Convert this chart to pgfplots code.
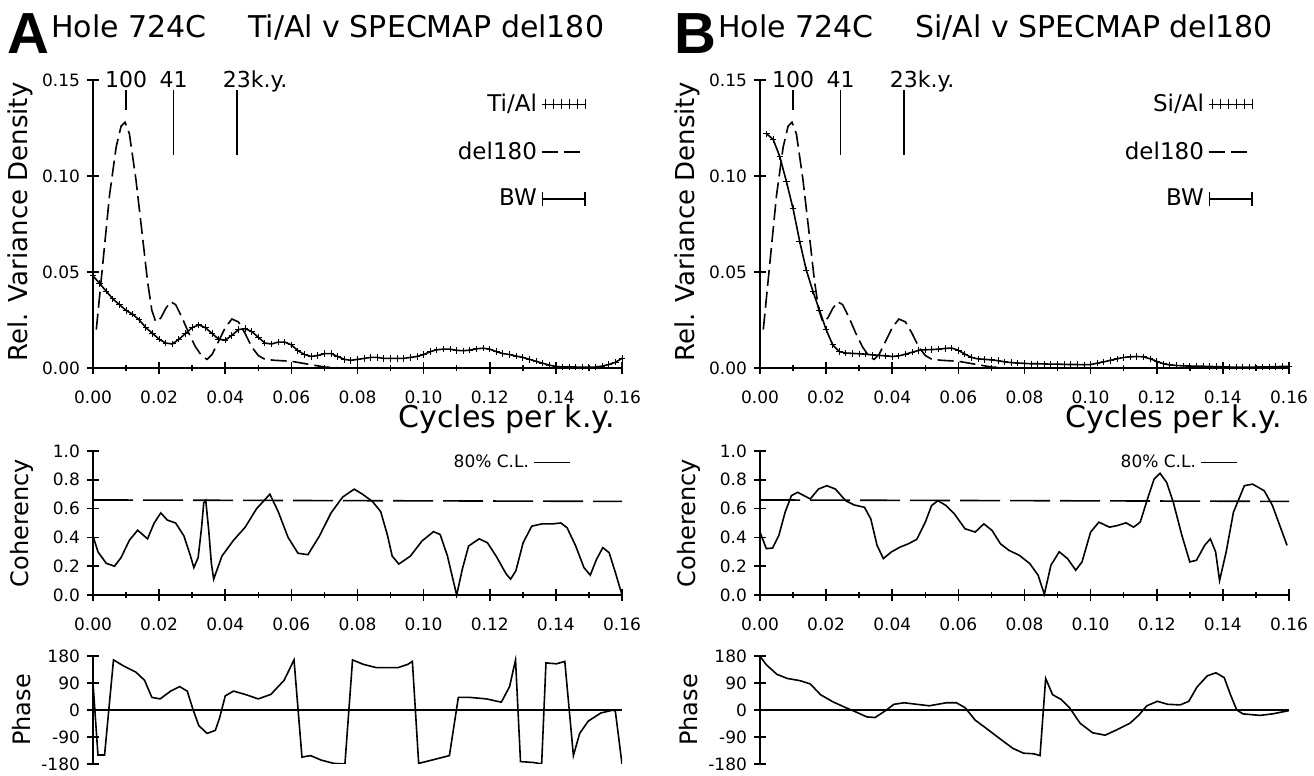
\documentclass[border=0pt]{standalone}
\usepackage{fontspec}
\setmainfont{DejaVu Sans}
\newfontfamily\heavy{Liberation Sans}
\usepackage{pgfplots}
\usepackage{pgfplotstable}
\pgfplotsset{compat=1.18}

% ---- spectra ----
\pgfplotstableread{
x y
0.000 0.048
0.002 0.044
0.004 0.040
0.006 0.036
0.008 0.033
0.010 0.030
0.012 0.028
0.014 0.025
0.016 0.021
0.018 0.018
0.020 0.015
0.022 0.013
0.024 0.0125
0.026 0.015
0.028 0.018
0.030 0.021
0.032 0.0225
0.034 0.021
0.036 0.018
0.038 0.015
0.040 0.0145
0.042 0.017
0.044 0.020
0.046 0.0205
0.048 0.019
0.050 0.016
0.052 0.013
0.054 0.0125
0.056 0.0135
0.058 0.0135
0.060 0.012
0.062 0.009
0.064 0.007
0.066 0.006
0.068 0.0065
0.070 0.0075
0.072 0.0075
0.074 0.006
0.076 0.0045
0.078 0.004
0.080 0.0045
0.082 0.005
0.084 0.0055
0.086 0.0055
0.088 0.005
0.090 0.005
0.092 0.005
0.094 0.005
0.096 0.0055
0.098 0.006
0.100 0.007
0.102 0.0085
0.104 0.0095
0.106 0.0098
0.108 0.0098
0.110 0.0092
0.112 0.009
0.114 0.0093
0.116 0.010
0.118 0.0103
0.120 0.0098
0.122 0.0085
0.124 0.0075
0.126 0.007
0.128 0.0062
0.130 0.0055
0.132 0.0045
0.134 0.0035
0.136 0.0025
0.138 0.0015
0.140 0.0008
0.142 0.0005
0.144 0.0005
0.146 0.0005
0.148 0.0004
0.150 0.0004
0.152 0.0005
0.154 0.0010
0.156 0.0018
0.158 0.0030
0.160 0.0050
}\tial

\pgfplotstableread{
x y
0.002 0.122
0.004 0.119
0.006 0.110
0.008 0.097
0.010 0.083
0.012 0.066
0.014 0.051
0.016 0.040
0.018 0.030
0.020 0.020
0.022 0.012
0.024 0.0085
0.026 0.0078
0.028 0.0076
0.030 0.0074
0.032 0.0072
0.034 0.0068
0.036 0.0066
0.038 0.0063
0.040 0.0060
0.042 0.0063
0.044 0.0072
0.046 0.0082
0.048 0.0092
0.050 0.0095
0.052 0.0096
0.054 0.0098
0.056 0.0102
0.058 0.0104
0.060 0.0092
0.062 0.0072
0.064 0.0055
0.066 0.0047
0.068 0.0045
0.070 0.0042
0.072 0.0038
0.074 0.0032
0.076 0.0028
0.078 0.0026
0.080 0.0024
0.082 0.0022
0.084 0.0022
0.086 0.0021
0.088 0.0020
0.090 0.0020
0.092 0.0019
0.094 0.0018
0.096 0.0018
0.098 0.0017
0.100 0.0018
0.102 0.0025
0.104 0.0032
0.106 0.0040
0.108 0.0048
0.110 0.0055
0.112 0.0058
0.114 0.0060
0.116 0.0058
0.118 0.0048
0.120 0.0035
0.122 0.0022
0.124 0.0016
0.126 0.0013
0.128 0.0011
0.130 0.0010
0.132 0.0009
0.134 0.0009
0.136 0.0008
0.138 0.0007
0.140 0.0006
0.142 0.0005
0.144 0.0004
0.146 0.0004
0.148 0.0004
0.150 0.0005
0.152 0.0005
0.154 0.0006
0.156 0.0007
0.158 0.0008
0.160 0.0009
}\sial

\pgfplotstableread{
x y
0.0010 0.020
0.0030 0.055
0.0050 0.090
0.0070 0.115
0.0085 0.126
0.0097 0.128
0.0110 0.122
0.0130 0.098
0.0150 0.068
0.0165 0.045
0.0178 0.030
0.0190 0.024
0.0205 0.026
0.0220 0.031
0.0235 0.0345
0.0250 0.033
0.0270 0.026
0.0290 0.018
0.0310 0.011
0.0330 0.006
0.0345 0.0045
0.0360 0.007
0.0380 0.014
0.0400 0.021
0.0420 0.0255
0.0440 0.024
0.0460 0.018
0.0480 0.011
0.0500 0.0065
0.0520 0.0045
0.0550 0.0040
0.0600 0.0035
0.0650 0.0020
0.0700 0.0005
0.0750 0.0
0.1600 0.0
}\delO

% ---- coherency ----
\pgfplotstableread{
x y
0.0000 0.41
0.0015 0.30
0.0040 0.22
0.0065 0.20
0.0085 0.26
0.0110 0.38
0.0135 0.45
0.0165 0.39
0.0185 0.50
0.0205 0.57
0.0225 0.52
0.0250 0.50
0.0275 0.41
0.0295 0.27
0.0305 0.19
0.0318 0.26
0.0328 0.46
0.0335 0.64
0.0341 0.657
0.0350 0.45
0.0358 0.22
0.0365 0.11
0.0390 0.27
0.0425 0.38
0.0460 0.47
0.0495 0.60
0.0535 0.70
0.0560 0.58
0.0590 0.40
0.0620 0.29
0.0650 0.28
0.0685 0.41
0.0720 0.57
0.0755 0.68
0.0790 0.735
0.0815 0.70
0.0845 0.65
0.0870 0.58
0.0890 0.42
0.0905 0.27
0.0925 0.215
0.0960 0.27
0.0995 0.375
0.1030 0.44
0.1050 0.42
0.1072 0.271
0.1098 0.018
0.1100 0.0
0.1117 0.179
0.1136 0.34
0.1168 0.39
0.1193 0.363
0.1219 0.271
0.1250 0.145
0.1263 0.11
0.1279 0.168
0.1301 0.363
0.1327 0.478
0.1358 0.494
0.1390 0.494
0.1415 0.50
0.1434 0.467
0.1460 0.34
0.1485 0.19
0.1504 0.138
0.1523 0.248
0.1542 0.329
0.1561 0.294
0.1580 0.156
0.1600 0.0
}\cohA

\pgfplotstableread{
x y
0.0000 0.437
0.0019 0.322
0.0038 0.326
0.0057 0.414
0.0076 0.575
0.0095 0.69
0.0114 0.713
0.0133 0.69
0.0152 0.667
0.0177 0.736
0.0202 0.759
0.0228 0.736
0.0259 0.655
0.0285 0.625
0.0316 0.609
0.0335 0.529
0.0354 0.345
0.0373 0.253
0.0398 0.30
0.0424 0.333
0.0449 0.356
0.0474 0.386
0.0500 0.506
0.0519 0.621
0.0538 0.655
0.0563 0.621
0.0588 0.563
0.0620 0.46
0.0651 0.437
0.0677 0.494
0.0702 0.448
0.0727 0.356
0.0753 0.31
0.0784 0.276
0.0816 0.218
0.0841 0.138
0.0860 0.005
0.0880 0.207
0.0905 0.30
0.0930 0.253
0.0955 0.172
0.0974 0.23
0.1000 0.437
0.1025 0.506
0.1057 0.471
0.1082 0.483
0.1107 0.501
0.1130 0.471
0.1150 0.506
0.1172 0.667
0.1192 0.805
0.1210 0.845
0.1230 0.782
0.1250 0.644
0.1276 0.414
0.1300 0.23
0.1320 0.241
0.1345 0.345
0.1362 0.39
0.1378 0.30
0.1390 0.10
0.1410 0.30
0.1432 0.575
0.1465 0.759
0.1490 0.77
0.1525 0.724
0.1550 0.621
0.1572 0.483
0.1594 0.345
}\cohB

% ---- phase ----
\pgfplotstableread{
x y
0.0000 90
0.0015 -150
0.0035 -150
0.0062 167
0.0092 147
0.0130 126
0.0156 99
0.0178 42
0.0203 37
0.0235 63
0.0262 78
0.0285 63
0.0303 0
0.0320 -52
0.0345 -78
0.0370 -68
0.0383 -26
0.0400 47
0.0425 63
0.0460 52
0.0500 37
0.0538 52
0.0578 99
0.0608 167
0.0632 -157
0.0658 -152
0.0690 -167
0.0728 -178
0.0762 -180
0.0785 167
0.0818 152
0.0858 141
0.0922 141
0.0952 152
0.0966 162
0.0985 -178
0.1025 -167
0.1078 -152
0.1105 42
0.1140 42
0.1190 37
0.1235 26
0.1260 78
0.1278 167
0.1293 -172
0.1332 -175
0.1357 -180
0.1370 157
0.1402 154
0.1427 162
0.1453 -152
0.1472 -78
0.1498 -37
0.1536 -10
0.1574 0
0.1580 -5
0.1600 -180
}\phA

\pgfplotstableread{
x y
0.0000 179
0.0019 151
0.0051 119
0.0083 105
0.0120 98
0.0152 87
0.0183 51
0.0221 27
0.0259 8
0.0291 -7
0.0323 -23
0.0348 -25
0.0380 -2
0.0405 19
0.0436 24
0.0474 19
0.0512 14
0.0563 24
0.0594 24
0.0620 8
0.0651 -34
0.0689 -65
0.0727 -97
0.0765 -128
0.0797 -144
0.0828 -146
0.0847 -152
0.0864 105
0.0885 51
0.0911 35
0.0936 8
0.0968 -44
0.1006 -76
0.1044 -84
0.1081 -65
0.1119 -44
0.1145 -18
0.1170 14
0.1202 29
0.1233 19
0.1271 17
0.1297 29
0.1322 77
0.1353 114
0.1379 124
0.1404 108
0.1423 51
0.1442 0
0.1461 -13
0.1512 -18
0.1550 -13
0.1600 -2
}\phB

\pgfplotsset{
  base/.style={
    scale only axis, anchor=south west, width=264.5pt,
    xmin=0, xmax=0.16, scaled ticks=false,
    axis x line*=bottom, axis y line*=left,
    axis line style={line width=0.9pt},
    every tick/.style={black, line width=0.8pt},
    tick align=center,
    major tick length=6pt, minor tick length=3pt,
    tick label style={font=\fontsize{8.5}{10}\selectfont},
    /pgf/number format/assume math mode=true,
    clip=false,
    legend plot pos=right, legend cell align=right,
  },
  xnum/.style={
    xtick={0,0.02,0.04,0.06,0.08,0.10,0.12,0.14,0.16},
    minor x tick num=1,
    xticklabel style={/pgf/number format/fixed, /pgf/number format/fixed zerofill,
      /pgf/number format/precision=2, yshift=-5pt},
  },
  spec/.style={
    base, xnum, height=144pt, ymin=0, ymax=0.15,
    ytick={0,0.05,0.10,0.15},
    yticklabel style={/pgf/number format/fixed, /pgf/number format/fixed zerofill,
      /pgf/number format/precision=2},
    legend style={draw=none, fill=none, at={(rel axis cs:0.945,0.98)}, anchor=north east,
      row sep=9.5pt, font=\fontsize{11.5}{13}\selectfont},
  },
  coh/.style={
    base, xnum, height=72pt, ymin=0, ymax=1,
    ytick={0,0.2,0.4,0.6,0.8,1.0},
    yticklabel style={/pgf/number format/fixed, /pgf/number format/fixed zerofill,
      /pgf/number format/precision=1},
    legend style={draw=none, fill=none, at={(rel axis cs:0.915,0.92)}, anchor=east,
      font=\fontsize{8.5}{10}\selectfont},
  },
  pha/.style={
    base, height=54pt, ymin=-180, ymax=180, clip=true,
    axis x line*=middle, xtick=\empty,
    ytick={-180,-90,0,90,180},
  },
  curve/.style={black, line width=0.8pt},
  delstyle/.style={black, line width=0.8pt, dash pattern=on 8pt off 3pt,
    legend image code/.code={\draw[line width=0.8pt, dash pattern=on 8pt off 3pt] (0pt,0pt) -- (20pt,0pt);}},
  markstyle/.style={black, line width=0.8pt, mark=+, mark size=1.6pt,
    mark options={line width=0.5pt},
    legend image code/.code={\draw[line width=0.8pt] (0pt,0pt) -- (22pt,0pt);
      \foreach \k in {2,6,10,14,18,22} {\draw[line width=0.5pt] (\k*1pt,-2.5pt) -- (\k*1pt,2.5pt);}}},
  bwimage/.style={legend image code/.code={\draw[|-|, line width=0.8pt] (0pt,0pt) -- (22pt,0pt);}},
  climage/.style={legend image code/.code={\draw[line width=0.8pt] (0pt,0pt) -- (18pt,0pt);}},
  period/.style={black, line width=0.8pt, forget plot},
}

\newcommand\cyc{\fontsize{11}{13}\selectfont}
\newcommand\ttl{\fontsize{15}{18}\selectfont}

\begin{document}
\begin{tikzpicture}
\useasboundingbox (0,0) rectangle (657pt,388pt);

% ===== A =====
\begin{axis}[spec, at={(46.5pt,204pt)}]
  \addplot[markstyle] table {\tial};
  \addlegendentry{Ti/Al}
  \addplot[delstyle] table {\delO};
  \addlegendentry{del180}
  \addplot[period] coordinates {(0.01,0.1448) (0.01,0.1344)};
  \addplot[period] coordinates {(0.0244,0.1448) (0.0244,0.1109)};
  \addplot[period] coordinates {(0.0435,0.1448) (0.0435,0.1109)};
  \addlegendimage{bwimage}
  \addlegendentry{BW\hspace{14pt}}
  \node[anchor=base, font=\cyc] at (axis cs:0.01,0.1462) {100};
  \node[anchor=base, font=\cyc] at (axis cs:0.0244,0.1462) {41};
  \node[anchor=base, font=\cyc] at (axis cs:0.0435,0.1462) {23\rlap{k.y.}};
  \node[anchor=base east, font=\fontsize{15}{17}\selectfont] at (rel axis cs:1,0) [yshift=-30pt] {Cycles per k.y.};
\end{axis}

\begin{axis}[coh, at={(46.5pt,90.5pt)}]
  \addplot[curve, forget plot] table {\cohA};
  \addplot[black, line width=0.8pt, dash pattern=on 20pt off 5pt, forget plot] coordinates {(0,0.66) (0.16,0.65)};
  \addlegendimage{climage}
  \addlegendentry{80\% C.L.}
\end{axis}

\begin{axis}[pha, at={(46.5pt,6pt)}]
  \addplot[curve] table {\phA};
\end{axis}

% ===== B =====
\begin{axis}[spec, at={(380pt,204pt)}]
  \addplot[markstyle] table {\sial};
  \addlegendentry{Si/Al}
  \addplot[delstyle] table {\delO};
  \addlegendentry{del180}
  \addplot[period] coordinates {(0.01,0.1448) (0.01,0.1344)};
  \addplot[period] coordinates {(0.0244,0.1448) (0.0244,0.1109)};
  \addplot[period] coordinates {(0.0435,0.1448) (0.0435,0.1109)};
  \addlegendimage{bwimage}
  \addlegendentry{BW\hspace{14pt}}
  \node[anchor=base, font=\cyc] at (axis cs:0.01,0.1462) {100};
  \node[anchor=base, font=\cyc] at (axis cs:0.0244,0.1462) {41};
  \node[anchor=base, font=\cyc] at (axis cs:0.0435,0.1462) {23\rlap{k.y.}};
  \node[anchor=base east, font=\fontsize{15}{17}\selectfont] at (rel axis cs:1,0) [yshift=-30pt] {Cycles per k.y.};
\end{axis}

\begin{axis}[coh, at={(380pt,90.5pt)}]
  \addplot[curve, forget plot] table {\cohB};
  \addplot[black, line width=0.8pt, dash pattern=on 20pt off 5pt, forget plot] coordinates {(0,0.66) (0.16,0.65)};
  \addlegendimage{climage}
  \addlegendentry{80\% C.L.}
\end{axis}

\begin{axis}[pha, at={(380pt,6pt)}]
  \addplot[curve] table {\phB};
\end{axis}

% ===== titles and axis names =====
\foreach \dx/\lt/\ratio in {0pt/A/Ti, 333.5pt/B/Si} {
  \node[font=\heavy\bfseries\fontsize{29}{31}\selectfont] at ([xshift=\dx]14.25pt,371pt) {\lt};
  \node[anchor=base west, font=\ttl, inner sep=0pt] at ([xshift=\dx]25.5pt,369pt) {Hole 724C};
  \node[anchor=base west, font=\ttl, inner sep=0pt] at ([xshift=\dx]124pt,369pt) {\ratio/Al v SPECMAP del180};
  \node[rotate=90, font=\fontsize{13}{15}\selectfont] at ([xshift=\dx]10pt,277pt) {Rel. Variance Density};
  \node[rotate=90, font=\fontsize{12}{14}\selectfont] at ([xshift=\dx]11pt,126.5pt) {Coherency};
  \node[rotate=90, font=\fontsize{12}{14}\selectfont] at ([xshift=\dx]11pt,33pt) {Phase};
}
\end{tikzpicture}
\end{document}
